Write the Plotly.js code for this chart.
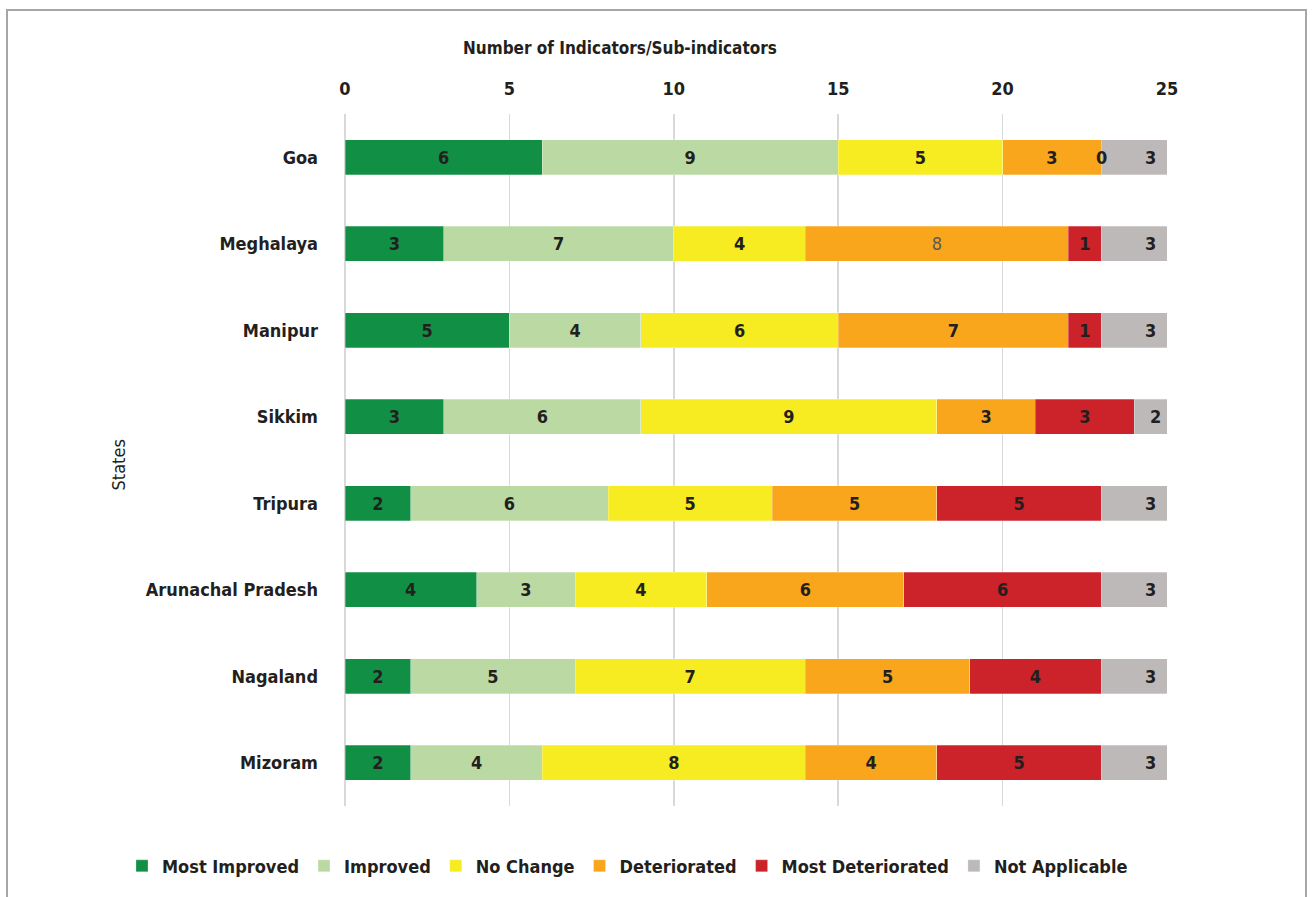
<!DOCTYPE html>
<html>
<head>
<meta charset="utf-8">
<script src="https://cdn.plot.ly/plotly-3.0.1.min.js"></script>
<style>html,body{margin:0;padding:0;background:#fff;}#chart{width:1314px;height:897px;}</style>
</head>
<body>
<div id="chart"></div>
<script>
const states = ["Goa","Meghalaya","Manipur","Sikkim","Tripura","Arunachal Pradesh","Nagaland","Mizoram"];
const seriesNames = ["Most Improved","Improved","No Change","Deteriorated","Most Deteriorated","Not Applicable"];
const mostImproved     = [6,3,5,3,2,4,2,2];
const improved         = [9,7,4,6,6,3,5,4];
const noChange         = [5,4,6,9,5,4,7,8];
const deteriorated     = [3,8,7,3,5,6,5,4];
const mostDeteriorated = [0,1,1,3,5,6,4,5];
const notApplicable    = [3,3,3,2,3,3,3,3];
const xTicks = [0,5,10,15,20,25];
const xMax = 25;

const seriesValues = [mostImproved, improved, noChange, deteriorated, mostDeteriorated, notApplicable];
const colors = ["#118F45","#BBDAA3","#F7EB21","#F9A61C","#CC2229","#BDB9B8"];
const FONT = "'Liberation Sans Narrow','DejaVu Sans Condensed','Arial Narrow',sans-serif";
const DARK = "#231F20";

// cumulative starts per state
const starts = seriesValues.map(() => []);
states.forEach((s, j) => {
  let cum = 0;
  seriesValues.forEach((vals, i) => { starts[i][j] = cum; cum += vals[j]; });
});

const annotations = [];
const traces = seriesValues.map((vals, i) => {
  const colorsArr = vals.map((v, j) => (i === 3 && j === 1) ? "#595959" : DARK);
  const weightArr = vals.map((v, j) => (i === 3 && j === 1) ? 400 : 700);
  const texts = vals.map((v, j) => {
    const s0 = starts[i][j], s1 = s0 + v;
    if (v === 0 || s1 > xMax) {
      // label centred on the full segment, kept inside the plot area
      annotations.push({x: Math.min((s0 + s1) / 2, xMax - 0.35), y: states[j], xref: "x", yref: "y",
        text: String(v), showarrow: false, xanchor: "center", yanchor: "middle",
        font: {family: FONT, size: 18, color: DARK, weight: 700}});
      return "";
    }
    return String(v);
  });
  return {
    type: "bar",
    orientation: "h",
    name: seriesNames[i],
    y: states,
    x: vals,
    width: 0.4,
    marker: {color: colors[i], line: {width: 0.6, color: "rgba(255,255,255,0.45)"}},
    text: texts,
    textposition: "inside",
    insidetextanchor: "middle",
    textangle: 0,
    constraintext: "none",
    textfont: {family: FONT, size: 18, color: colorsArr, weight: weightArr},
    hoverinfo: "x+y+name"
  };
});

annotations.push({text: "Number of Indicators/Sub-indicators", xref: "paper", yref: "paper",
  x: (620-345)/822, y: 1 + (113.5-47)/696, showarrow: false, xanchor: "center", yanchor: "middle",
  font: {family: FONT, size: 17, color: DARK, weight: 700}});
annotations.push({text: "States", xref: "paper", yref: "paper", textangle: -90,
  x: (118-345)/822, y: (809.5-467)/696, showarrow: false, xanchor: "center", yanchor: "middle",
  font: {family: FONT, size: 18, color: DARK, weight: 400}});

const layout = {
  width: 1314, height: 897,
  margin: {l: 345, r: 147, t: 113.5, b: 87.5, pad: 0},
  paper_bgcolor: "#fff", plot_bgcolor: "#fff",
  barmode: "stack",
  bargap: 0.6,
  font: {family: FONT, color: DARK},
  xaxis: {
    side: "top", range: [0, xMax], tickvals: xTicks, ticktext: xTicks.map(String),
    showgrid: true, gridcolor: "#D9D9D9", gridwidth: 1.5,
    zeroline: true, zerolinecolor: "#D9D9D9", zerolinewidth: 1.5,
    showline: false, ticks: "", ticklabelstandoff: 14,
    tickfont: {family: FONT, size: 18, color: DARK, weight: 700}, fixedrange: true
  },
  yaxis: {
    type: "category", categoryorder: "array", categoryarray: states, autorange: "reversed",
    showgrid: false, zeroline: false, showline: false, ticks: "", ticklabelstandoff: 26,
    tickfont: {family: FONT, size: 18, color: DARK, weight: 700}, fixedrange: true
  },
  showlegend: true,
  legend: {
    orientation: "h", x: (122-345)/822, xanchor: "left", y: -(870-809.5)/696, yanchor: "middle",
    font: {family: FONT, size: 18, color: DARK, weight: 700},
    traceorder: "normal", itemwidth: 30, bgcolor: "rgba(0,0,0,0)"
  },
  annotations: annotations,
  shapes: [{
    type: "rect", xref: "paper", yref: "paper",
    x0: (7-345)/822, x1: (1306-345)/822, y0: -(910-809.5)/696, y1: (809.5-9)/696,
    line: {color: "#A6A6A6", width: 2}, fillcolor: "rgba(0,0,0,0)", layer: "below"
  }]
};

Plotly.newPlot("chart", traces, layout, {displayModeBar: false, staticPlot: true});
</script>
</body>
</html>
